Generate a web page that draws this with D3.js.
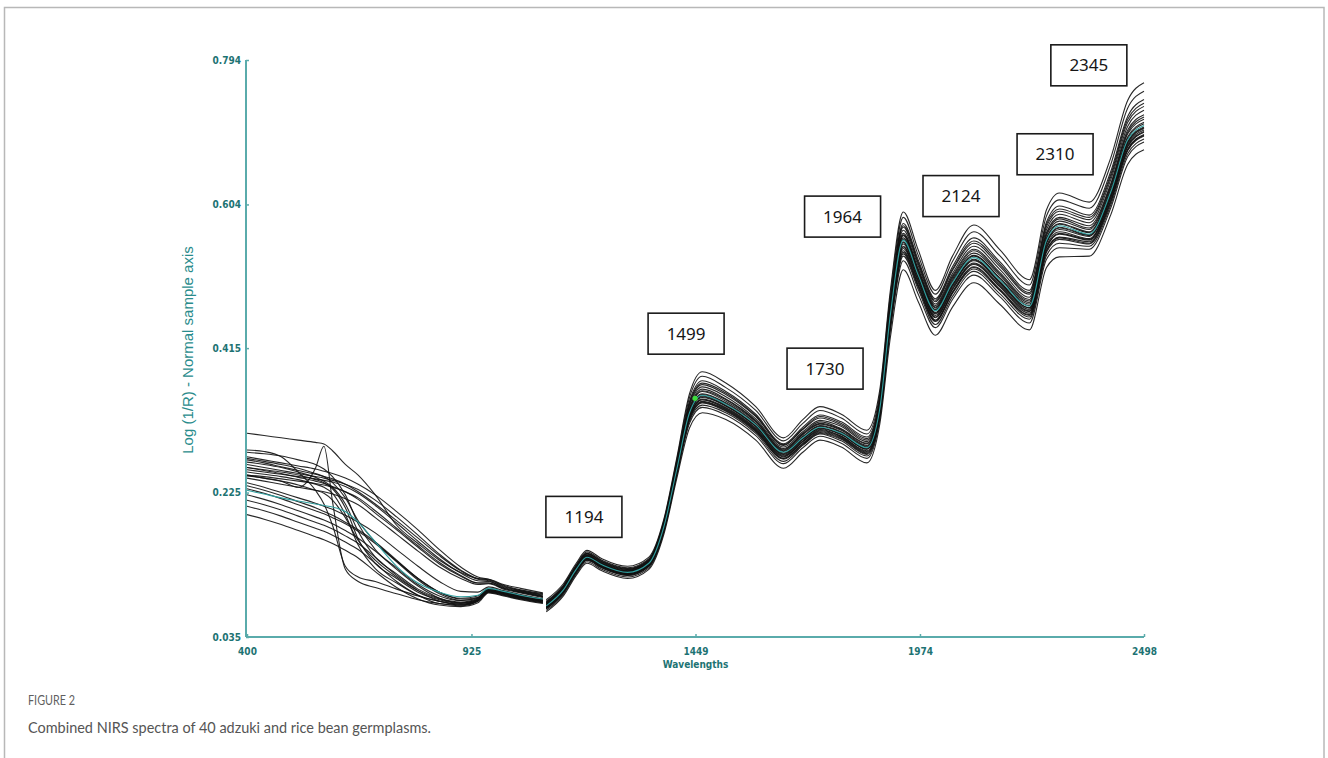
<!DOCTYPE html>
<html>
<head>
<meta charset="utf-8">
<script src="https://cdn.jsdelivr.net/npm/d3@7"></script>
<style>
  body { margin: 0; background: #ffffff; }
  svg { display: block; }
</style>
</head>
<body>
<svg id="chart" width="1328" height="758"></svg>
<script>
// Wavelength grid (nm): visible detector up to 1092 nm, NIR detector from 1100 nm
const wavelengths = [400, 440, 480, 520, 560, 580, 600, 630, 660, 700, 750, 800, 850, 900, 940, 965, 1000, 1040, 1092,
  1100, 1140, 1170, 1195, 1230, 1290, 1340, 1375, 1405, 1435, 1465, 1520, 1590, 1655, 1700, 1740, 1790, 1850, 1880,
  1905, 1935, 1970, 2010, 2050, 2100, 2160, 2230, 2270, 2300, 2370, 2420, 2460, 2498];
const detectorSplit = 1096;

// Log(1/R) spectra, one list per germplasm sample
const sample01 = [.272,.268,.264,.260,.256,.253,.250,.244,.236,.222,.200,.176,.150,.127,.114,.111,.103,.097,.092,
  .084,.105,.132,.149,.138,.128,.140,.190,.270,.355,.384,.369,.338,.297,.321,.338,.328,.307,.360,.492,.594,.544,.491,.536,.577,.545,.505,.597,.619,.607,.665,.741,.764];
const sample02 = [.270,.266,.262,.257,.250,.246,.238,.218,.188,.160,.135,.112,.094,.086,.089,.099,.095,.090,.085,
  .082,.103,.130,.147,.136,.126,.138,.188,.267,.350,.378,.363,.333,.293,.316,.333,.323,.302,.355,.486,.587,.537,.486,.529,.568,.537,.498,.589,.610,.599,.656,.731,.753];
const sample03 = [.303,.300,.297,.294,.291,.289,.280,.262,.248,.222,.182,.158,.136,.120,.112,.111,.104,.099,.093,
  .081,.102,.129,.145,.135,.125,.137,.186,.264,.345,.372,.358,.328,.289,.311,.327,.318,.298,.350,.479,.579,.531,.480,.522,.560,.529,.491,.581,.602,.590,.647,.720,.742];
const sample04 = [.238,.232,.225,.218,.211,.207,.203,.195,.186,.172,.150,.128,.108,.095,.094,.101,.096,.091,.085,
  .080,.101,.128,.145,.134,.124,.136,.185,.263,.343,.369,.356,.326,.288,.309,.325,.316,.296,.348,.477,.576,.528,.478,.519,.556,.526,.488,.578,.598,.587,.643,.716,.737];
const sample05 = [.268,.264,.259,.254,.249,.246,.243,.236,.226,.210,.188,.165,.142,.122,.111,.109,.101,.096,.091,
  .080,.101,.128,.144,.134,.124,.136,.185,.262,.341,.367,.354,.325,.287,.308,.323,.314,.294,.346,.474,.574,.526,.476,.517,.553,.523,.486,.575,.595,.584,.640,.712,.733];
const sample06 = [.278,.276,.273,.268,.262,.256,.246,.222,.184,.150,.126,.104,.089,.083,.087,.098,.094,.089,.084,
  .079,.100,.127,.143,.133,.123,.135,.184,.260,.339,.364,.351,.322,.285,.305,.320,.312,.292,.344,.471,.570,.523,.473,.513,.549,.519,.482,.571,.591,.580,.636,.707,.728];
const sample07 = [.234,.228,.221,.213,.205,.200,.195,.186,.176,.160,.136,.112,.094,.085,.087,.098,.094,.089,.083,
  .078,.099,.126,.142,.132,.122,.134,.183,.259,.336,.361,.348,.320,.283,.303,.318,.309,.290,.341,.468,.566,.519,.471,.510,.545,.515,.479,.567,.587,.576,.631,.702,.722];
const sample08 = [.262,.258,.254,.250,.246,.244,.241,.236,.229,.215,.193,.169,.144,.123,.112,.110,.102,.096,.090,
  .078,.099,.126,.142,.132,.122,.134,.182,.258,.335,.359,.347,.319,.282,.302,.316,.308,.289,.340,.466,.564,.518,.469,.508,.543,.513,.477,.565,.585,.573,.629,.699,.719];
const sample09 = [.265,.262,.258,.252,.245,.240,.232,.210,.174,.140,.118,.098,.086,.081,.086,.097,.093,.088,.083,
  .077,.098,.125,.141,.131,.121,.133,.182,.257,.334,.358,.345,.318,.281,.301,.315,.307,.287,.339,.465,.563,.516,.468,.506,.540,.511,.475,.563,.582,.571,.627,.697,.716];
const sample10 = [.230,.224,.217,.209,.201,.197,.192,.184,.174,.158,.134,.110,.092,.083,.086,.097,.093,.088,.083,
  .077,.098,.125,.141,.131,.121,.133,.181,.256,.332,.355,.343,.316,.280,.299,.313,.305,.286,.337,.463,.560,.514,.466,.504,.537,.508,.473,.560,.579,.568,.624,.693,.712];
const sample11 = [.255,.252,.249,.246,.243,.241,.239,.233,.224,.208,.185,.161,.138,.119,.109,.108,.100,.095,.089,
  .076,.097,.124,.140,.130,.120,.132,.180,.256,.331,.354,.342,.315,.279,.298,.312,.304,.285,.336,.461,.558,.512,.465,.502,.536,.507,.471,.559,.578,.567,.622,.691,.710];
const sample12 = [.228,.223,.218,.214,.210,.208,.206,.200,.186,.160,.128,.106,.094,.088,.090,.099,.095,.090,.085,
  .076,.097,.124,.140,.130,.120,.132,.180,.255,.330,.353,.341,.314,.278,.297,.311,.303,.284,.335,.460,.557,.511,.464,.501,.534,.505,.470,.557,.576,.565,.620,.689,.708];
const sample13 = [.281,.279,.272,.252,.228,.210,.182,.128,.114,.108,.098,.089,.082,.078,.084,.096,.092,.087,.082,
  .076,.097,.124,.140,.130,.120,.132,.179,.254,.329,.352,.340,.313,.277,.296,.310,.302,.283,.334,.458,.555,.509,.462,.499,.532,.503,.468,.555,.574,.564,.618,.687,.706];
const sample14 = [.222,.216,.209,.201,.193,.189,.184,.175,.165,.148,.124,.102,.086,.080,.084,.096,.092,.087,.082,
  .075,.096,.123,.139,.129,.119,.131,.179,.254,.328,.351,.339,.312,.276,.295,.310,.302,.282,.333,.458,.554,.508,.461,.498,.531,.502,.468,.554,.573,.563,.618,.686,.705];
const sample15 = [.258,.255,.252,.248,.242,.238,.230,.205,.164,.132,.112,.094,.084,.079,.084,.096,.092,.087,.082,
  .075,.096,.123,.139,.129,.119,.131,.179,.254,.328,.350,.339,.312,.275,.295,.309,.301,.282,.333,.456,.552,.507,.460,.497,.530,.501,.466,.553,.571,.562,.616,.685,.704];
const sample16 = [.258,.254,.250,.245,.240,.237,.233,.226,.216,.198,.176,.153,.131,.115,.106,.106,.099,.094,.088,
  .074,.095,.122,.138,.128,.118,.130,.178,.253,.326,.348,.337,.310,.274,.293,.308,.299,.280,.331,.454,.549,.504,.458,.495,.527,.499,.464,.550,.568,.559,.614,.683,.702];
const sample17 = [.215,.209,.202,.194,.186,.182,.177,.168,.158,.140,.116,.096,.082,.078,.083,.095,.091,.086,.081,
  .074,.095,.122,.138,.128,.118,.130,.178,.252,.325,.347,.336,.309,.273,.292,.307,.299,.279,.330,.453,.548,.503,.456,.493,.526,.497,.463,.548,.566,.558,.613,.681,.700];
const sample18 = [.252,.249,.246,.242,.236,.232,.224,.196,.156,.125,.106,.090,.082,.077,.083,.095,.091,.086,.081,
  .074,.095,.122,.138,.128,.118,.130,.177,.252,.324,.347,.335,.308,.272,.292,.306,.298,.278,.329,.452,.546,.501,.455,.492,.525,.496,.461,.547,.565,.557,.612,.680,.699];
const sample19 = [.248,.244,.240,.232,.257,.286,.213,.124,.108,.100,.092,.084,.079,.076,.082,.094,.090,.085,.080,
  .073,.094,.121,.137,.127,.117,.129,.176,.251,.323,.345,.334,.307,.270,.290,.305,.297,.277,.328,.449,.543,.498,.452,.489,.522,.493,.459,.544,.561,.555,.609,.677,.696];
const sample20 = [.248,.246,.243,.240,.237,.235,.232,.226,.218,.201,.178,.155,.133,.116,.106,.106,.099,.094,.088,
  .073,.094,.121,.137,.127,.117,.129,.176,.250,.322,.344,.333,.306,.270,.289,.304,.296,.276,.327,.448,.541,.497,.451,.488,.521,.492,.458,.543,.560,.553,.608,.676,.695];
const sample21 = [.207,.201,.194,.186,.178,.174,.169,.160,.150,.132,.108,.090,.079,.077,.082,.094,.090,.085,.080,
  .072,.093,.120,.136,.126,.116,.128,.175,.250,.321,.343,.332,.305,.269,.288,.303,.295,.275,.326,.446,.539,.495,.450,.487,.519,.491,.456,.541,.558,.552,.606,.675,.694];
const sample22 = [.247,.244,.240,.235,.228,.224,.215,.192,.162,.136,.114,.096,.085,.080,.085,.097,.093,.088,.083,
  .072,.093,.120,.136,.126,.116,.128,.174,.248,.319,.340,.330,.303,.266,.287,.302,.293,.273,.324,.443,.536,.492,.446,.483,.516,.487,.453,.537,.553,.549,.603,.671,.690];
const sample23 = [.244,.240,.236,.232,.228,.226,.223,.217,.209,.192,.170,.148,.127,.112,.104,.105,.098,.093,.087,
  .070,.091,.118,.134,.124,.114,.126,.173,.247,.316,.337,.327,.300,.263,.284,.299,.290,.270,.321,.439,.530,.486,.442,.479,.511,.483,.448,.532,.547,.545,.599,.667,.686];
const sample24 = [.196,.190,.183,.175,.167,.163,.158,.149,.139,.121,.100,.085,.077,.075,.080,.093,.089,.084,.079,
  .068,.089,.116,.132,.122,.112,.124,.170,.243,.310,.330,.321,.294,.257,.278,.294,.285,.264,.315,.430,.518,.476,.432,.469,.501,.473,.439,.521,.535,.536,.590,.657,.676];

// Axis ticks
const xTicks = [400, 925, 1449, 1974, 2498];
const yTicks = [0.035, 0.225, 0.415, 0.604, 0.794];

// Band annotations: label and the (wavelength, Log(1/R)) point where its box is centred
const bandLabels = ["1194", "1499", "1730", "1964", "2124", "2310", "2345"];
const bandBoxWavelength = [1188, 1427, 1752, 1793, 2070, 2290, 2369];
const bandBoxLevel = [0.193, 0.434, 0.388, 0.588, 0.615, 0.670, 0.787];

// Cursor point shown on the highlighted spectrum
const cursorWavelength = 1448;
const cursorLevel = 0.349;

const samples = [sample01, sample02, sample03, sample04, sample05, sample06, sample07, sample08,
  sample09, sample10, sample11, sample12, sample13, sample14, sample15, sample16,
  sample17, sample18, sample19, sample20, sample21, sample22, sample23, sample24];
const highlighted = sample12;

const axisColor = "#5aabab";
const labelColor = "#1d7373";

const svg = d3.select("#chart");

// figure frame
svg.append("rect")
  .attr("x", 4.5).attr("y", 7.5)
  .attr("width", 1319.5).attr("height", 800)
  .attr("fill", "none").attr("stroke", "#b8b8b8").attr("stroke-width", 1.5);

const x = d3.scaleLinear().domain([400, 2498]).range([247, 1144]);
const y = d3.scaleLinear().domain([0.035, 0.794]).range([637, 60]);

const line = d3.line()
  .x(d => x(d.w))
  .y(d => y(d.v))
  .curve(d3.curveMonotoneX);

function detectorSegments(values) {
  const pts = wavelengths.map((w, i) => ({ w, v: values[i] }));
  return [pts.filter(p => p.w <= detectorSplit), pts.filter(p => p.w > detectorSplit)];
}

const spectra = svg.append("g").attr("fill", "none");
samples.forEach(s => {
  if (s === highlighted) return;
  detectorSegments(s).forEach(seg => {
    spectra.append("path")
      .attr("d", line(seg))
      .attr("stroke", "#111111")
      .attr("stroke-width", 1.1)
      .attr("stroke-opacity", 0.9);
  });
});
detectorSegments(highlighted).forEach(seg => {
  spectra.append("path")
    .attr("d", line(seg))
    .attr("stroke", "#2f9d9d")
    .attr("stroke-width", 1.1);
});

svg.append("circle")
  .attr("cx", x(cursorWavelength)).attr("cy", y(cursorLevel))
  .attr("r", 2.6)
  .attr("fill", "#3ddc3d");

// axes
const tickFont = "bold 10px 'DejaVu Sans Condensed', 'DejaVu Sans', Verdana, sans-serif";

const yAxis = d3.axisLeft(y)
  .tickValues(yTicks)
  .tickFormat(d3.format(".3f"))
  .tickSizeInner(-3).tickSizeOuter(0)
  .tickPadding(5);
const gy = svg.append("g").attr("transform", "translate(246,0)").call(yAxis);

const xAxis = d3.axisBottom(x)
  .tickValues(xTicks)
  .tickFormat(d3.format("d"))
  .tickSizeInner(-3).tickSizeOuter(0)
  .tickPadding(11);
const gx = svg.append("g").attr("transform", "translate(0,637)").call(xAxis);

[gx, gy].forEach(g => {
  g.select(".domain").attr("stroke", axisColor).attr("stroke-width", 2);
  g.selectAll(".tick line").attr("stroke", axisColor).attr("stroke-width", 1.5);
  g.selectAll(".tick text").attr("fill", labelColor).style("font", tickFont);
});
gy.select(".domain").attr("d", "M0,60V637");
gx.select(".domain").attr("d", "M246,0H1144");

svg.append("text")
  .attr("x", x(1449)).attr("y", 668)
  .attr("text-anchor", "middle")
  .attr("fill", labelColor)
  .style("font", tickFont)
  .text("Wavelengths");

svg.append("text")
  .attr("transform", "translate(193,350) rotate(-90)")
  .attr("text-anchor", "middle")
  .attr("fill", "#2a8c8c")
  .style("font", "15px 'Liberation Sans', Arial, sans-serif")
  .text("Log (1/R) - Normal sample axis");

// band annotation boxes
const boxW = 76, boxH = 41;
const boxes = svg.append("g");
bandLabels.forEach((lab, i) => {
  const cx = x(bandBoxWavelength[i]), cy = y(bandBoxLevel[i]);
  boxes.append("rect")
    .attr("x", cx - boxW / 2).attr("y", cy - boxH / 2)
    .attr("width", boxW).attr("height", boxH)
    .attr("fill", "#ffffff").attr("stroke", "#1a1a1a").attr("stroke-width", 1.6);
  boxes.append("text")
    .attr("x", cx).attr("y", cy + 6)
    .attr("text-anchor", "middle")
    .attr("fill", "#161616")
    .style("font", "17px 'Noto Sans', 'Open Sans', sans-serif")
    .text(lab);
});

// caption
svg.append("text")
  .attr("x", 28).attr("y", 705)
  .attr("fill", "#5f5f5f")
  .attr("textLength", 47).attr("lengthAdjust", "spacingAndGlyphs")
  .style("font", "12.5px Lato, 'Open Sans', sans-serif")
  .text("FIGURE 2");
svg.append("text")
  .attr("x", 28).attr("y", 733)
  .attr("fill", "#555555")
  .attr("textLength", 403).attr("lengthAdjust", "spacingAndGlyphs")
  .style("font", "16px Lato, 'Open Sans', sans-serif")
  .text("Combined NIRS spectra of 40 adzuki and rice bean germplasms.");
</script>
</body>
</html>
